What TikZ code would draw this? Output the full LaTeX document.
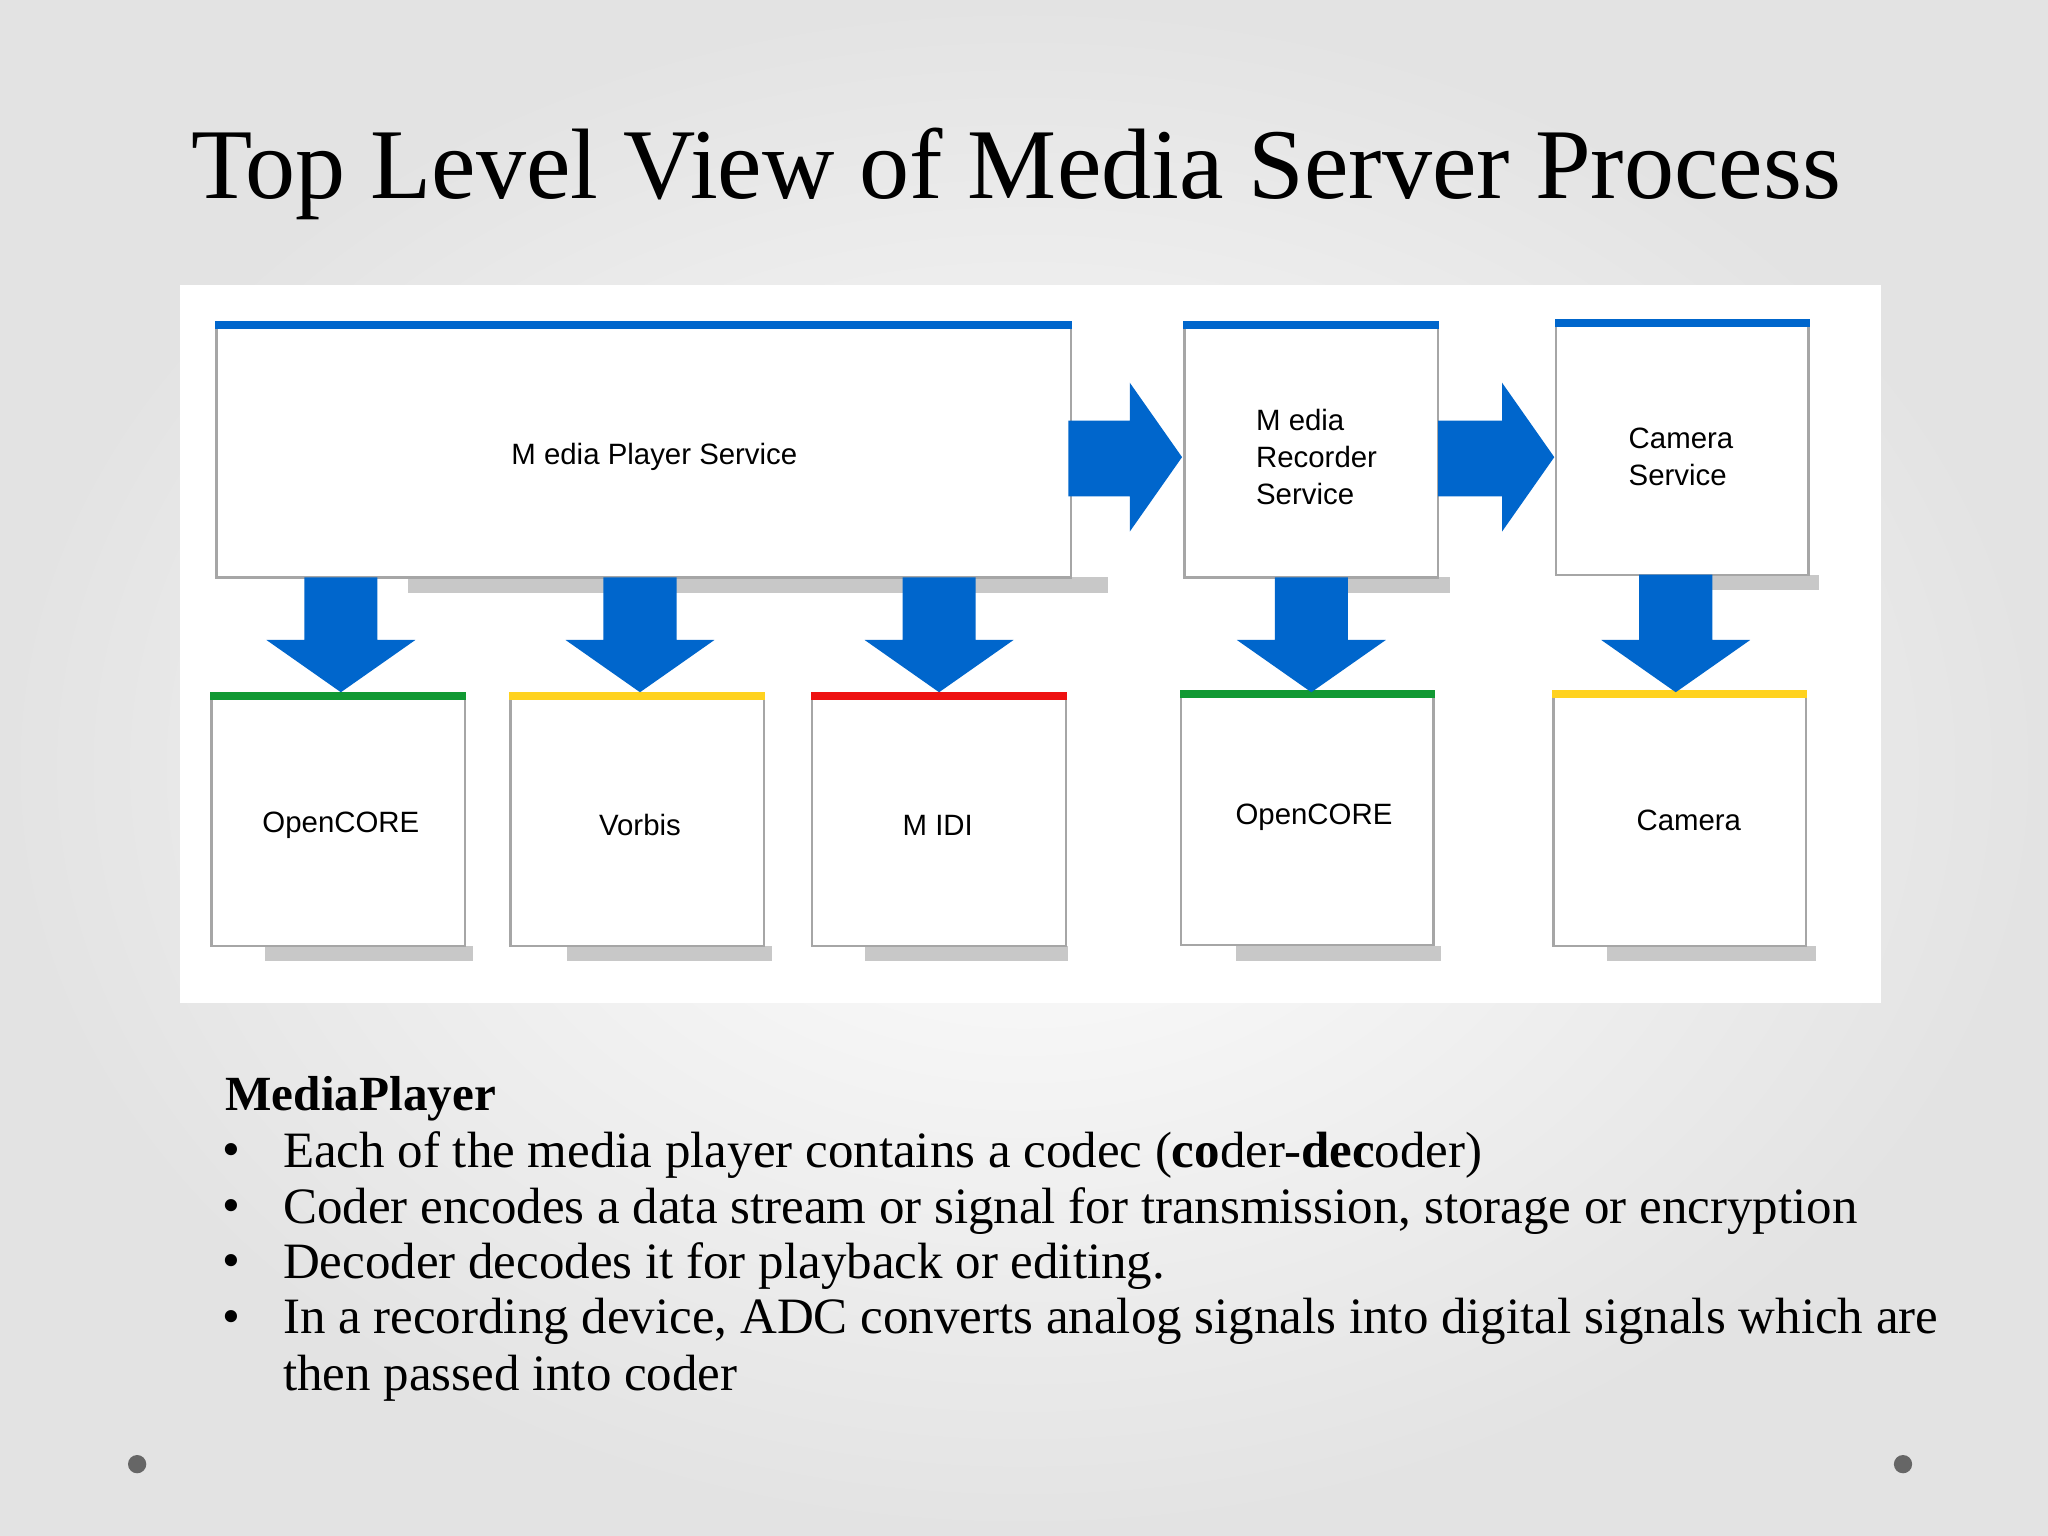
\documentclass[tikz,border=0pt]{standalone}
\usepackage{fontspec}
\setmainfont{Liberation Serif}
\newfontfamily\lab{Liberation Sans}
\definecolor{gblue}{HTML}{0066CC}
\definecolor{ggreen}{HTML}{119933}
\definecolor{gyellow}{HTML}{FFD21F}
\definecolor{gred}{HTML}{EE1111}
\definecolor{shad}{HTML}{C8C8C8}
\begin{document}
\begin{tikzpicture}[x=0.01cm,y=-0.01cm,
  box/.style={draw=gray!70,fill=white,line width=0.5pt,inner sep=0},
  lbl/.style={font=\lab\fontsize{6.4}{8}\selectfont,align=left},
  bar/.style={line width=1.7pt}]
\useasboundingbox (0,0) rectangle (1568,1176);
\shade[inner color=white,outer color=gray!22] (0,0) rectangle (1568,1176);
\fill[white] (138,218) rectangle (1440,768);
% shadows
\foreach \a/\b/\y in {312/848/448,1000/1110/448,1300/1393/446,203/362/730,434/591/730,662/818/730,946/1103/730,1230/1390/730}
  \fill[shad] (\a,\y-6) rectangle (\b,\y+6);
% boxes
\node[box,minimum width=6.54cm,minimum height=1.92cm] (mps) at (493,346) {};
\node[box,minimum width=1.94cm,minimum height=1.92cm] (mrs) at (1004,346) {};
\node[box,minimum width=1.93cm,minimum height=1.92cm] (cs) at (1288,344) {};
\node[box,minimum width=1.94cm,minimum height=1.90cm] (oc1) at (259,629) {};
\node[box,minimum width=1.94cm,minimum height=1.90cm] (vb) at (488,629) {};
\node[box,minimum width=1.94cm,minimum height=1.90cm] (midi) at (719,629) {};
\node[box,minimum width=1.93cm,minimum height=1.91cm] (oc2) at (1001,628) {};
\node[box,minimum width=1.93cm,minimum height=1.92cm] (cam) at (1286,628) {};
\draw[bar,gblue] (mps.north west) -- (mps.north east);
\draw[bar,gblue] (mrs.north west) -- (mrs.north east);
\draw[bar,gblue] (cs.north west) -- (cs.north east);
\draw[bar,ggreen] (oc1.north west) -- (oc1.north east);
\draw[bar,gyellow] (vb.north west) -- (vb.north east);
\draw[bar,gred] (midi.north west) -- (midi.north east);
\draw[bar,ggreen] (oc2.north west) -- (oc2.north east);
\draw[bar,gyellow] (cam.north west) -- (cam.north east);
\node[lbl] at (501,350) {M edia Player Service};
\node[lbl] at (1008,350) {M edia\\Recorder\\Service};
\node[lbl] at (1287,350) {Camera\\Service};
\node[lbl] at (261,632) {OpenCORE};
\node[lbl] at (490,632) {Vorbis};
\node[lbl] at (718,632) {M IDI};
\node[lbl] at (1006,626) {OpenCORE};
\node[lbl] at (1293,628) {Camera};
% right arrows
\foreach \s/\e in {818/905,1101/1190}
  \fill[gblue] (\s,322) -- (\e-40,322) -- (\e-40,293) -- (\e,350) -- (\e-40,407) -- (\e-40,380) -- (\s,380) -- cycle;
% down arrows
\foreach \c/\t in {261/442,490/442,719/442,1004/442,1283/440}
  \fill[gblue] (\c-28,\t) -- (\c+28,\t) -- (\c+28,490) -- (\c+57,490) -- (\c,530) -- (\c-57,490) -- (\c-28,490) -- (\c-28,\t) -- cycle;
\node (title) at (778,133) {\fontsize{21.8}{26}\selectfont Top Level View of Media Server Process};
% text
\node[anchor=west,inner sep=0] (mp) at (172,841) {\fontsize{10.7}{12}\selectfont\bfseries MediaPlayer};
\begin{scope}[every node/.style={anchor=west,inner sep=0,font=\fontsize{11.1}{13}\selectfont}]
\foreach \y in {884,927,969,1012} \node at (170,\y) {•};
\node at (216,884) {Each of the media player contains a codec (\textbf{co}der-\textbf{dec}oder)};
\node at (216,927) {Coder encodes a data stream or signal for transmission, storage or encryption};
\node at (216,969) {Decoder decodes it for playback or editing.};
\node at (216,1012) {In a recording device, ADC converts analog signals into digital signals which are};
\node at (216,1055) {then passed into coder};
\end{scope}
\fill[gray!80!black] (105,1121) circle (7);
\fill[gray!80!black] (1457,1121) circle (7);
\end{tikzpicture}
\end{document}
